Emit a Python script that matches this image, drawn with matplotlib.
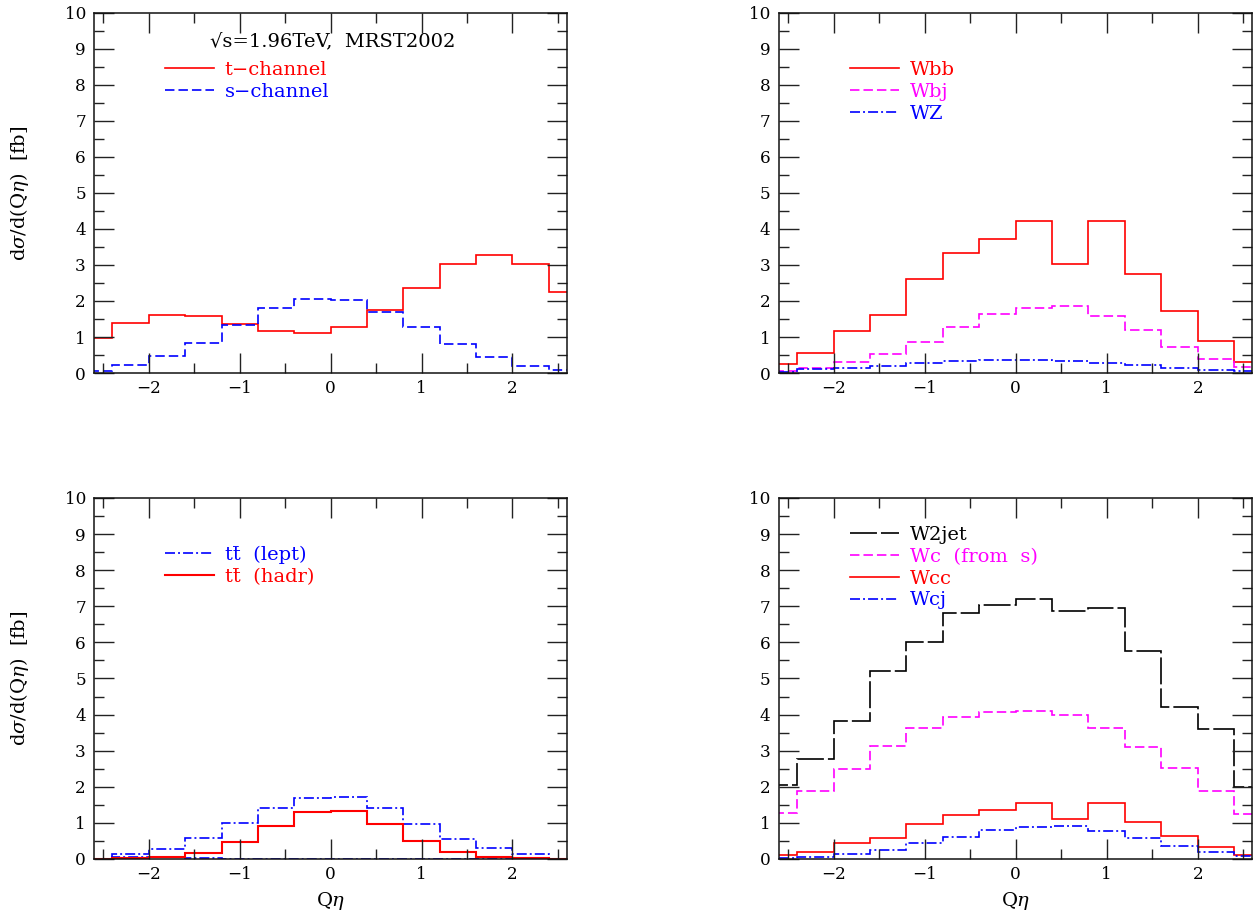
import numpy as np
import matplotlib
matplotlib.use("Agg")
import matplotlib.pyplot as plt
from matplotlib.ticker import MultipleLocator

# ---------------- data ----------------
edges = [-2.8, -2.4, -2.0, -1.6, -1.2, -0.8, -0.4, 0.0, 0.4, 0.8, 1.2, 1.6, 2.0, 2.4, 2.8]

t_channel = [0.97, 1.39, 1.61, 1.58, 1.36, 1.16, 1.11, 1.27, 1.74, 2.37, 3.04, 3.29, 3.04, 2.25]
s_channel = [0.06, 0.23, 0.46, 0.83, 1.33, 1.81, 2.06, 2.03, 1.70, 1.28, 0.81, 0.45, 0.20, 0.09]

wbb = [0.26, 0.55, 1.16, 1.62, 2.62, 3.33, 3.73, 4.22, 3.04, 4.21, 2.74, 1.72, 0.90, 0.30]
wbj = [0.05, 0.13, 0.30, 0.52, 0.86, 1.27, 1.63, 1.81, 1.85, 1.59, 1.19, 0.72, 0.38, 0.17]
wz = [0.03, 0.11, 0.14, 0.20, 0.28, 0.32, 0.36, 0.35, 0.32, 0.29, 0.22, 0.15, 0.09, 0.05]

tt_lept = [0.0, 0.13, 0.28, 0.57, 1.01, 1.42, 1.69, 1.71, 1.41, 0.98, 0.56, 0.30, 0.14, 0.0]
tt_hadr = [0.0, 0.03, 0.05, 0.17, 0.46, 0.91, 1.30, 1.32, 0.96, 0.50, 0.18, 0.06, 0.02, 0.0]
tt_other = [0.0, 0.05, 0.05, 0.04, 0.0, 0.0, 0.0, 0.0, 0.0, 0.0, 0.0, 0.0, 0.0, 0.0]

w2jet = [2.06, 2.77, 3.83, 5.21, 6.00, 6.80, 7.03, 7.20, 6.86, 6.95, 5.76, 4.22, 3.60, 2.00]
wc_s = [1.26, 1.88, 2.48, 3.14, 3.64, 3.94, 4.06, 4.11, 3.98, 3.64, 3.11, 2.53, 1.88, 1.25]
wcc = [0.10, 0.20, 0.43, 0.59, 0.96, 1.22, 1.37, 1.55, 1.11, 1.54, 1.02, 0.64, 0.32, 0.11]
wcj = [0.02, 0.06, 0.15, 0.26, 0.43, 0.62, 0.80, 0.89, 0.90, 0.77, 0.57, 0.35, 0.19, 0.07]

x_ticks = [-2, -1, 0, 1, 2]
y_ticks = [0, 1, 2, 3, 4, 5, 6, 7, 8, 9, 10]

# ---------------- style ----------------
plt.rcParams['lines.scale_dashes'] = False
plt.rcParams['mathtext.fontset'] = 'dejavuserif'

SERIF = ['DejaVu Serif']
FS = 14
RED, BLUE, MAG, BLK = '#ff0000', '#0000ff', '#ff00ff', '#000000'
SOLID = '-'
DASHED = (0, (6.8, 2.9))
DASHDOT = (0, (7.2, 2.2, 1.4, 2.2))
LONGDASH = (0, (19.4, 2.9))
LW = 1.2

fig = plt.figure(figsize=(12.6, 9.14), dpi=100)

positions = {
    'tl': [0.0748, 0.5919, 0.3752, 0.3939],
    'tr': [0.6183, 0.5919, 0.3756, 0.3939],
    'bl': [0.0748, 0.0602, 0.3752, 0.3950],
    'br': [0.6183, 0.0602, 0.3756, 0.3950],
}


def setup(ax, xlabel=False, ylabel=False):
    ax.set_xlim(-2.6, 2.6)
    ax.set_ylim(0, 10)
    ax.set_xticks(x_ticks)
    ax.set_yticks(y_ticks)
    ax.xaxis.set_minor_locator(MultipleLocator(0.5))
    ax.yaxis.set_minor_locator(MultipleLocator(0.5))
    ax.tick_params(which='both', direction='in', top=True, right=True,
                   color='#222222', width=1.0)
    ax.tick_params(which='major', length=14.4)
    ax.tick_params(which='minor', length=7.2)
    ax.tick_params(axis='x', which='major', pad=5)
    ax.tick_params(axis='y', which='major', pad=6)
    for lab in ax.get_xticklabels() + ax.get_yticklabels():
        lab.set_fontfamily(SERIF)
        lab.set_fontsize(12.2)
    for sp in ax.spines.values():
        sp.set_linewidth(1.1)
        sp.set_color('#111111')
    if ylabel:
        ax.set_ylabel(r'd$\sigma$/d(Q$\eta$)  [fb]', family=SERIF, fontsize=FS)
        ax.yaxis.set_label_coords(-0.133, 0.5)
    if xlabel:
        ax.set_xlabel(r'Q$\eta$', family=SERIF, fontsize=FS)
        ax.xaxis.set_label_coords(0.5, -0.087)


def leg(ax, handles, y_top, spacing=0.2):
    lg = ax.legend(handles=handles, loc='upper left', bbox_to_anchor=(0.149, y_top),
                   frameon=False, handlelength=2.52, handletextpad=0.57,
                   labelspacing=spacing, borderpad=0, borderaxespad=0,
                   prop={'family': SERIF, 'size': FS}, labelcolor='linecolor')
    return lg


# top-left
ax = fig.add_axes(positions['tl'])
h1 = ax.stairs(t_channel, edges, baseline=None, color=RED, lw=LW, ls=SOLID, label='t\u2212channel')
h2 = ax.stairs(s_channel, edges, baseline=None, color=BLUE, lw=LW, ls=DASHED, label='s\u2212channel')
setup(ax, ylabel=True)
ax.text(0.505, 0.922, '\u221as=1.96TeV,  MRST2002', transform=ax.transAxes,
        ha='center', va='center', family=SERIF, fontsize=FS, color=BLK)
leg(ax, [h1, h2], 0.866)

# top-right
ax = fig.add_axes(positions['tr'])
h1 = ax.stairs(wbb, edges, baseline=None, color=RED, lw=LW, ls=SOLID, label='Wbb')
h2 = ax.stairs(wbj, edges, baseline=None, color=MAG, lw=LW, ls=DASHED, label='Wbj')
h3 = ax.stairs(wz, edges, baseline=None, color=BLUE, lw=LW, ls=DASHDOT, label='WZ')
setup(ax)
leg(ax, [h1, h2, h3], 0.866)

# bottom-left
ax = fig.add_axes(positions['bl'])
h1 = ax.stairs(tt_lept, edges, baseline=None, color=BLUE, lw=LW, ls=DASHDOT, label='tt\u0304  (lept)')
ax.stairs(tt_other, edges, baseline=None, color=BLUE, lw=LW, ls=DASHDOT)
h2 = ax.stairs(tt_hadr, edges, baseline=None, color=RED, lw=1.5, ls=SOLID, label='tt\u0304  (hadr)')
setup(ax, xlabel=True, ylabel=True)
leg(ax, [h1, h2], 0.868)

# bottom-right
ax = fig.add_axes(positions['br'])
h1 = ax.stairs(w2jet, edges, baseline=None, color=BLK, lw=LW, ls=LONGDASH, label='W2jet')
h2 = ax.stairs(wc_s, edges, baseline=None, color=MAG, lw=LW, ls=DASHED, label='Wc  (from  s)')
h3 = ax.stairs(wcc, edges, baseline=None, color=RED, lw=LW, ls=SOLID, label='Wcc')
h4 = ax.stairs(wcj, edges, baseline=None, color=BLUE, lw=LW, ls=DASHDOT, label='Wcj')
setup(ax, xlabel=True)
leg(ax, [h1, h2, h3, h4], 0.923)

fig.savefig('out.png', dpi=100)
